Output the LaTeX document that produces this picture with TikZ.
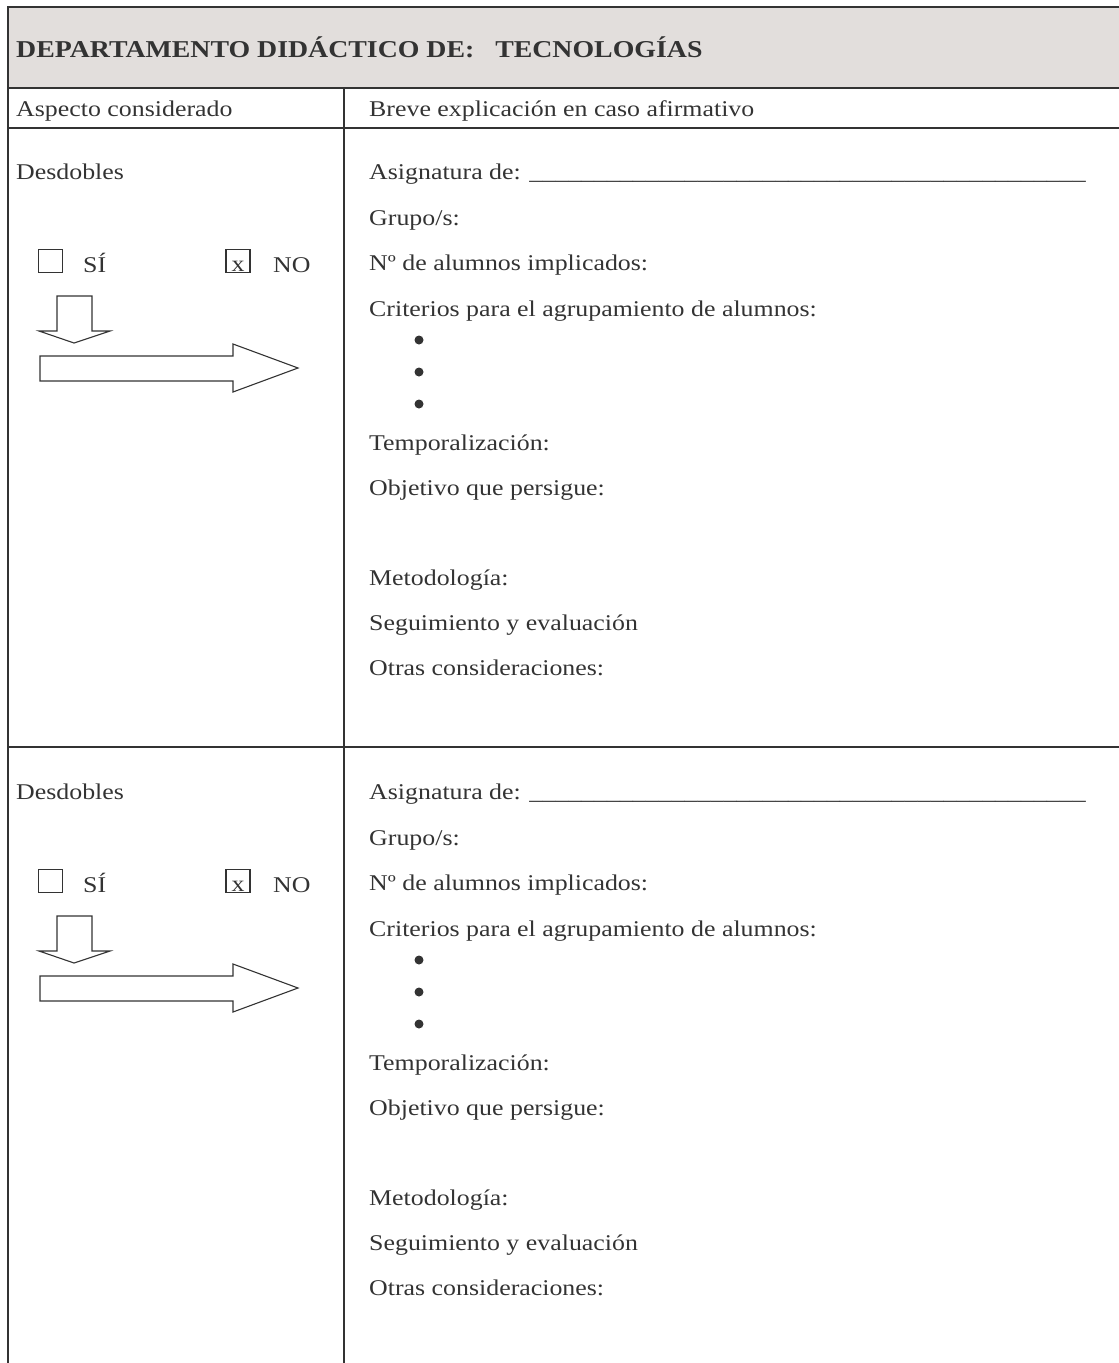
\documentclass[tikz,border=0pt]{standalone}
\usepackage{fontspec}
\setmainfont[FakeStretch=1.15]{Liberation Serif}
\definecolor{tinta}{HTML}{333333}
\definecolor{cabecera}{HTML}{E2DEDC}
\tikzset{
  texto/.style={anchor=base west, inner sep=0pt, text=tinta, font=\fontsize{22.5}{26}\selectfont},
  vineta/.style={circle, fill=tinta, minimum size=9pt, inner sep=0pt},
  casilla/.style={draw=tinta, line width=1.1pt, minimum width=24pt, minimum height=23pt, inner sep=0pt},
  flecha/.style={draw=tinta, line width=1.1pt, fill=white},
  borde/.style={draw=tinta, line width=2pt}
}
\newcommand{\rayas}[1]{\foreach \k in {1,...,#1}{\_}}
\begin{document}
\begin{tikzpicture}[x=1pt, y=-1pt]
            \useasboundingbox (0,0) rectangle (1119,1363);

            % Draw the header band
            \fill[cabecera] (8,7) rectangle (1119,88);
            \node[texto, font=\fontsize{24.2}{29}\selectfont\bfseries] (titulo) at (16,57)
                {DEPARTAMENTO DIDÁCTICO DE:\ \ \ TECNOLOGÍAS};

            % Draw the table rules
            \draw[borde] (8,1363) -- (8,7) -- (1119,7);
            \draw[borde] (8,88) -- (1119,88);
            \draw[borde] (8,128) -- (1119,128);
            \draw[borde] (8,747) -- (1119,747);
            \draw[borde] (344,88) -- (344,1363);

            \node[texto] (aspecto) at (16,116) {Aspecto considerado};
            \node[texto] (breve) at (369,116) {Breve explicación en caso afirmativo};

            % Draw the two rows
            \foreach \dy/\r in {0/a, 620/b} {
                \node[texto] (desd-\r) at (16,179+\dy) {Desdobles};

                % Draw the boxes
                \node[casilla] (si-\r) at (50.5,261+\dy) {};
                \node[texto] (si-txt-\r) at (83,272+\dy) {SÍ};
                \node[casilla] (no-\r) at (238,261+\dy) {};
                \node[texto, anchor=base] (x-\r) at (238,271+\dy) {x};
                \node[texto] (no-txt-\r) at (273,272+\dy) {NO};

                % Draw the block arrows
                \draw[flecha] (57,296+\dy) -- (92,296+\dy) -- (92,331+\dy) -- (110,331+\dy)
                    -- (74,343+\dy) -- (39,331+\dy) -- (57,331+\dy) -- cycle;
                \draw[flecha] (40,356+\dy) -- (233,356+\dy) -- (233,344+\dy) -- (298,368+\dy)
                    -- (233,392+\dy) -- (233,381+\dy) -- (40,381+\dy) -- cycle;

                % Draw the right column
                \node[texto] (asig-\r) at (369,179+\dy) {Asignatura de: \rayas{43}};
                \node[texto] (grupo-\r) at (369,225+\dy) {Grupo/s:};
                \node[texto] (num-\r) at (369,270+\dy) {Nº de alumnos implicados:};
                \node[texto] (crit-\r) at (369,316+\dy) {Criterios para el agrupamiento de alumnos:};
                \node[vineta] (bul1-\r) at (419,340+\dy) {};
                \node[vineta] (bul2-\r) at (419,372+\dy) {};
                \node[vineta] (bul3-\r) at (419,404+\dy) {};
                \node[texto] (temp-\r) at (369,450+\dy) {Temporalización:};
                \node[texto] (obj-\r) at (369,495+\dy) {Objetivo que persigue:};
                \node[texto] (met-\r) at (369,585+\dy) {Metodología:};
                \node[texto] (seg-\r) at (369,630+\dy) {Seguimiento y evaluación};
                \node[texto] (otras-\r) at (369,675+\dy) {Otras consideraciones:};
            }

        \end{tikzpicture}
\end{document}
